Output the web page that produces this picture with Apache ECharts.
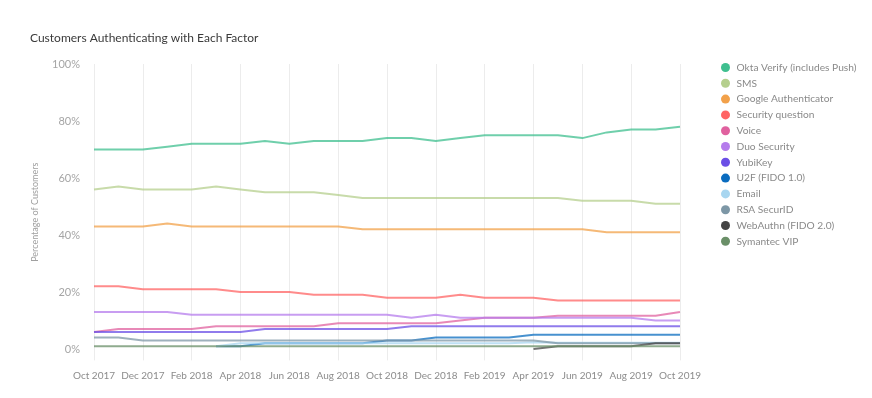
<!DOCTYPE html>
<html>
<head>
<meta charset="utf-8">
<script src="https://cdn.jsdelivr.net/npm/echarts@6/dist/echarts.min.js"></script>
<style>
html,body{margin:0;padding:0;background:#fff;}
#c{width:872px;height:398px;}
</style>
</head>
<body>
<div id="c"></div>
<script>
const months = ['Oct 2017','Nov 2017','Dec 2017','Jan 2018','Feb 2018','Mar 2018','Apr 2018','May 2018','Jun 2018','Jul 2018','Aug 2018','Sep 2018','Oct 2018','Nov 2018','Dec 2018','Jan 2019','Feb 2019','Mar 2019','Apr 2019','May 2019','Jun 2019','Jul 2019','Aug 2019','Sep 2019','Oct 2019'];
const yTicks = [0,20,40,60,80,100];

const oktaVerify = [70,70,70,71,72,72,72,73,72,73,73,73,74,74,73,74,75,75,75,75,74,76,77,77,78];
const sms = [56,57,56,56,56,57,56,55,55,55,54,53,53,53,53,53,53,53,53,53,52,52,52,51,51];
const googleAuth = [43,43,43,44,43,43,43,43,43,43,43,42,42,42,42,42,42,42,42,42,42,41,41,41,41];
const securityQuestion = [22,22,21,21,21,21,20,20,20,19,19,19,18,18,18,19,18,18,18,17,17,17,17,17,17];
const voice = [6,7,7,7,7,8,8,8,8,8,9,9,9,9,9,10,11,11,11,11.7,11.7,11.7,11.7,11.7,13];
const duoSecurity = [13,13,13,13,12,12,12,12,12,12,12,12,12,11,12,11,11,11,11,11,11,11,11,10,10];
const yubiKey = [6,6,6,6,6,6,6,7,7,7,7,7,7,8,8,8,8,8,8,8,8,8,8,8,8];
const u2f = [null,null,null,null,null,1,1,2,2,2,2,2,3,3,4,4,4,4,5,5,5,5,5,5,5];
const email = [null,null,null,null,null,1,2,2,2,2,2,2,2,2,2,2,2,2,2.4,2.2,2.2,2.2,2.2,2.2,2.2];
const rsaSecurID = [4,4,3,3,3,3,3,3,3,3,3,3,3,3,3,3,3,3,3,2,2,2,2,2,2];
const webAuthn = [null,null,null,null,null,null,null,null,null,null,null,null,null,null,null,null,null,null,0,1,1,1,1,2,2];
const symantecVIP = [1,1,1,1,1,1,1,1,1,1,1,1,1,1,1,1,1,1,1,1,1,1,1,1,1];

const seriesDefs = [
  ['Okta Verify (includes Push)', oktaVerify, '#3fbf8f'],
  ['SMS', sms, '#b5cf8d'],
  ['Google Authenticator', googleAuth, '#f2a14a'],
  ['Security question', securityQuestion, '#ff6464'],
  ['Voice', voice, '#e0619f'],
  ['Duo Security', duoSecurity, '#b57cec'],
  ['YubiKey', yubiKey, '#6b4fe6'],
  ['U2F (FIDO 1.0)', u2f, '#0a6cbf'],
  ['Email', email, '#a8d6f0'],
  ['RSA SecurID', rsaSecurID, '#7d97a6'],
  ['WebAuthn (FIDO 2.0)', webAuthn, '#444444'],
  ['Symantec VIP', symantecVIP, '#6a8f68']
];

const chart = echarts.init(document.getElementById('c'), null, {renderer:'canvas'});
const FONT = 'Lato';
chart.setOption({
  animation: false,
  backgroundColor: '#fff',
  textStyle: {fontFamily: FONT},
  title: {
    text: 'Customers Authenticating with Each Factor',
    left: 30, top: 32, padding: 0,
    textStyle: {fontFamily: FONT, fontSize: 12, fontWeight: 'normal', color: '#3a3a3a'}
  },
  legend: {
    orient: 'vertical',
    left: 716, top: 57,
    icon: 'circle',
    itemWidth: 12, itemHeight: 9,
    itemGap: 4.8,
    textStyle: {fontFamily: FONT, fontSize: 10.2, color: '#8a8a8a', lineHeight: 11},
    data: seriesDefs.map(d => d[0])
  },
  grid: {left: 94, right: 192, top: 64, bottom: 37.6, containLabel: false},
  xAxis: {
    type: 'category',
    data: months,
    boundaryGap: false,
    axisLine: {show: false},
    axisTick: {show: false},
    axisLabel: {interval: 1, margin: 10, fontFamily: FONT, fontSize: 10, color: '#8c8c8c'},
    splitLine: {show: true, interval: 1, lineStyle: {color: '#ececec', width: 1}}
  },
  yAxis: {
    type: 'value',
    min: -4, max: 100, interval: 4,
    name: 'Percentage of Customers',
    nameLocation: 'middle',
    nameGap: 54,
    nameTextStyle: {fontFamily: FONT, fontSize: 9, color: '#a0a0a0'},
    axisLine: {show: false},
    axisTick: {show: false},
    splitLine: {show: false},
    axisLabel: {
      margin: 14, fontFamily: FONT, fontSize: 11, color: '#a5a5a5',
      formatter: v => yTicks.indexOf(v) >= 0 ? v + '%' : ''
    }
  },
  series: seriesDefs.map(d => ({
    name: d[0],
    type: 'line',
    data: d[1],
    color: d[2],
    showSymbol: false,
    symbol: 'none',
    connectNulls: false,
    lineStyle: {width: 2, opacity: 0.75, color: d[2]},
    itemStyle: {color: d[2]},
    emphasis: {disabled: true}
  }))
});
</script>
</body>
</html>
